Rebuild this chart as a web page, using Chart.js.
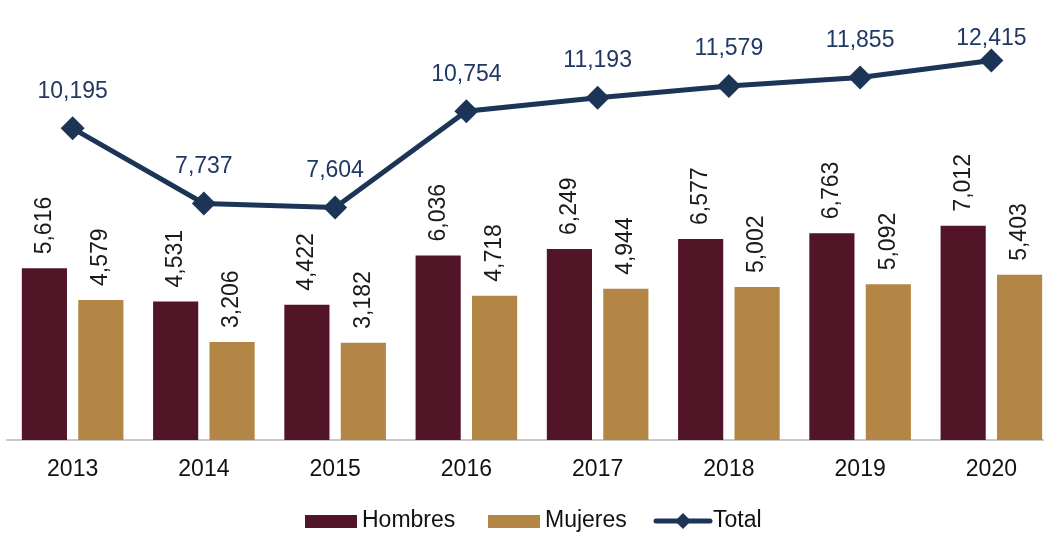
<!DOCTYPE html>
<html>
<head>
<meta charset="utf-8">
<script src="https://cdn.jsdelivr.net/npm/chart.js@4/dist/chart.umd.min.js"></script>
<style>
  html, body { margin: 0; padding: 0; background: #fff; overflow: hidden; }
  #caja { width: 1074px; height: 533px; position: relative; margin-left: -5px; }
</style>
</head>
<body>
<div id="caja"><canvas id="grafico"></canvas></div>
<script>
const anios = ["2013", "2014", "2015", "2016", "2017", "2018", "2019", "2020"];
const hombres = [5616, 4531, 4422, 6036, 6249, 6577, 6763, 7012];
const mujeres = [4579, 3206, 3182, 4718, 4944, 5002, 5092, 5403];
const total = [10195, 7737, 7604, 10754, 11193, 11579, 11855, 12415];

const colorHombres = "#521427";
const colorMujeres = "#B38646";
const colorTotal = "#1C3557";
const fuente = "'Liberation Sans', Arial, sans-serif";

const formato = (v) => v.toLocaleString("en-US");

// etiquetas de datos (no hay plugin datalabels)
const etiquetas = {
  id: "etiquetas",
  afterDatasetsDraw(chart) {
    const c = chart.ctx;
    c.save();
    c.font = "23px " + fuente;
    // barras: texto vertical
    [0, 1].forEach((i) => {
      const meta = chart.getDatasetMeta(i);
      meta.data.forEach((bar, j) => {
        c.save();
        c.translate(bar.x, bar.y - 14);
        c.rotate(-Math.PI / 2);
        c.fillStyle = "#1a1a1a";
        c.textAlign = "left";
        c.textBaseline = "middle";
        c.fillText(formato(chart.data.datasets[i].data[j]), 0, 0);
        c.restore();
      });
    });
    // linea: texto horizontal
    const metaL = chart.getDatasetMeta(2);
    metaL.data.forEach((p, j) => {
      c.fillStyle = "#1F3864";
      c.textAlign = "center";
      c.textBaseline = "middle";
      c.fillText(formato(total[j]), p.x, Math.max(p.y - 37, 39));
    });
    c.restore();
  },
};

// leyenda dibujada a mano
const leyenda = {
  id: "leyenda",
  afterDraw(chart) {
    const c = chart.ctx;
    c.save();
    c.font = "23px " + fuente;
    c.textBaseline = "middle";
    const y = 521;
    let x = 310;
    c.fillStyle = colorHombres;
    c.fillRect(x, y - 6, 52, 13);
    c.fillStyle = "#111";
    c.fillText("Hombres", x + 57, y);
    x = 493;
    c.fillStyle = colorMujeres;
    c.fillRect(x, y - 6, 52, 13);
    c.fillStyle = "#111";
    c.fillText("Mujeres", x + 57, y);
    x = 661;
    c.strokeStyle = colorTotal;
    c.lineWidth = 5;
    c.lineCap = "round";
    c.beginPath();
    c.moveTo(x, y);
    c.lineTo(x + 54, y);
    c.stroke();
    c.fillStyle = colorTotal;
    c.beginPath();
    c.moveTo(x + 27, y - 8);
    c.lineTo(x + 35, y);
    c.lineTo(x + 27, y + 8);
    c.lineTo(x + 19, y);
    c.closePath();
    c.fill();
    c.fillStyle = "#111";
    c.fillText("Total", x + 57, y);
    c.restore();
  },
};

new Chart(document.getElementById("grafico"), {
  type: "bar",
  data: {
    labels: anios,
    datasets: [
      {
        label: "Hombres",
        data: hombres,
        backgroundColor: colorHombres,
        categoryPercentage: 0.86,
        barPercentage: 0.8,
        order: 2,
      },
      {
        label: "Mujeres",
        data: mujeres,
        backgroundColor: colorMujeres,
        categoryPercentage: 0.86,
        barPercentage: 0.8,
        order: 2,
      },
      {
        type: "line",
        label: "Total",
        data: total,
        borderColor: colorTotal,
        backgroundColor: colorTotal,
        borderWidth: 5,
        pointStyle: "rectRot",
        pointRadius: 12,
        pointHoverRadius: 12,
        pointBorderWidth: 0,
        order: 1,
      },
    ],
  },
  options: {
    responsive: true,
    maintainAspectRatio: false,
    animation: false,
    layout: { padding: { top: 10, left: 2, right: 2, bottom: 0 } },
    plugins: {
      legend: { display: false },
      tooltip: { enabled: false },
    },
    scales: {
      y: {
        display: false,
        min: 0,
        max: 14000,
      },
      x: {
        grid: { display: false, drawTicks: false },
        border: { display: true, color: "#c8c8c8", width: 2 },
        ticks: {
          color: "#111",
          font: { size: 23, family: fuente },
          padding: 16,
        },
        afterFit: (s) => { s.height = 93; },
      },
    },
  },
  plugins: [etiquetas, leyenda],
});
</script>
</body>
</html>
